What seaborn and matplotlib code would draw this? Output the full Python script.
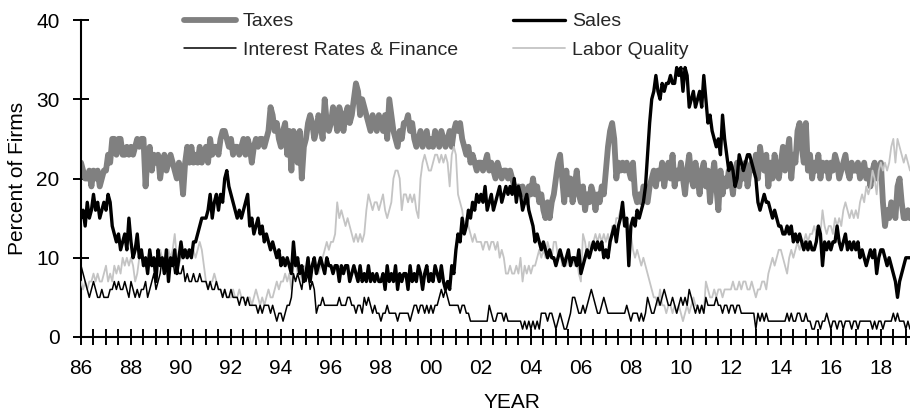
import numpy as np
import pandas as pd
import matplotlib
matplotlib.use("Agg")
import matplotlib.pyplot as plt
import seaborn as sns

# --- Monthly readings, Jan 1986 .. Mar 2019 (percent of firms) ---
START_YEAR = 1986

TAXES = [
    22, 21, 20, 20, 21, 19, 21, 20, 21, 19, 20, 21,  # 1986
    21, 23, 22, 25, 25, 23, 25, 25, 23, 23, 24, 23,  # 1987
    24, 23, 24, 25, 24, 25, 25, 19, 23, 24, 21, 23,  # 1988
    22, 23, 20, 22, 23, 21, 22, 23, 22, 21, 20, 22,  # 1989
    21, 18, 22, 24, 22, 24, 22, 23, 22, 24, 22, 23,  # 1990
    24, 22, 25, 23, 24, 24, 23, 25, 26, 26, 25, 24,  # 1991
    25, 23, 24, 24, 23, 24, 25, 23, 25, 24, 22, 24,  # 1992
    25, 24, 25, 25, 24, 25, 26, 29, 28, 26, 27, 25,  # 1993
    24, 26, 27, 23, 26, 21, 26, 25, 22, 26, 20, 24,  # 1994
    25, 27, 28, 27, 25, 26, 28, 27, 25, 30, 27, 26,  # 1995
    27, 29, 28, 26, 29, 28, 26, 28, 29, 27, 28, 30,  # 1996
    32, 31, 28, 30, 29, 28, 27, 26, 28, 27, 26, 28,  # 1997
    27, 26, 28, 25, 30, 28, 26, 25, 24, 26, 25, 27,  # 1998
    27, 28, 26, 27, 25, 24, 25, 26, 24, 25, 26, 24,  # 1999
    25, 24, 26, 25, 24, 26, 25, 24, 25, 26, 24, 26,  # 2000
    27, 26, 27, 25, 24, 23, 24, 22, 23, 22, 21, 22,  # 2001
    22, 21, 22, 23, 21, 22, 21, 20, 22, 21, 20, 21,  # 2002
    21, 20, 21, 20, 19, 18, 19, 18, 19, 18, 17, 19,  # 2003
    18, 20, 18, 19, 17, 18, 16, 15, 17, 15, 17, 18,  # 2004
    20, 22, 23, 20, 17, 21, 18, 20, 17, 19, 21, 18,  # 2005
    17, 19, 16, 18, 17, 19, 18, 16, 18, 17, 19, 18,  # 2006
    21, 24, 26, 27, 25, 20, 22, 21, 22, 21, 22, 21,  # 2007
    20, 22, 18, 17, 18, 17, 19, 18, 17, 19, 20, 21,  # 2008
    19, 21, 20, 22, 19, 21, 22, 20, 23, 19, 21, 20,  # 2009
    22, 20, 18, 21, 23, 20, 19, 22, 20, 18, 21, 22,  # 2010
    19, 21, 17, 20, 22, 19, 16, 21, 18, 20, 19, 21,  # 2011
    20, 18, 21, 22, 19, 21, 20, 22, 19, 21, 22, 21,  # 2012
    23, 20, 24, 22, 21, 23, 19, 22, 20, 23, 21, 20,  # 2013
    22, 24, 21, 23, 25, 20, 23, 22, 26, 27, 24, 22,  # 2014
    27, 21, 23, 20, 22, 21, 23, 20, 22, 21, 22, 20,  # 2015
    22, 21, 23, 22, 20, 21, 22, 23, 21, 20, 22, 21,  # 2016
    21, 22, 20, 21, 22, 20, 21, 19, 21, 22, 20, 21,  # 2017
    22, 17, 14, 16, 15, 17, 16, 15, 19, 20, 17, 15,  # 2018
    15, 16, 15,                                      # 2019
]

SALES = [
    15, 16, 14, 17, 15, 16, 18, 16, 17, 15, 16, 17,  # 1986
    16, 18, 17, 14, 13, 12, 13, 11, 12, 13, 11, 15,  # 1987
    12, 10, 11, 13, 10, 11, 9, 10, 8, 11, 9, 10,     # 1988
    7, 11, 9, 10, 8, 11, 7, 10, 9, 11, 8, 10,        # 1989
    12, 10, 11, 10, 11, 10, 12, 12, 13, 14, 15, 15,  # 1990
    15, 16, 18, 15, 17, 18, 16, 18, 17, 20, 21, 19,  # 1991
    18, 17, 16, 15, 16, 15, 16, 17, 18, 14, 15, 13,  # 1992
    14, 15, 13, 14, 12, 13, 12, 11, 12, 11, 10, 11,  # 1993
    9, 10, 9, 10, 9, 8, 12, 9, 10, 8, 9, 7,          # 1994
    8, 10, 7, 9, 10, 8, 9, 10, 9, 8, 10, 9,          # 1995
    9, 8, 9, 9, 7, 9, 8, 9, 9, 7, 8, 9,              # 1996
    8, 7, 9, 7, 8, 7, 9, 7, 8, 7, 8, 7,              # 1997
    7, 8, 6, 9, 7, 8, 7, 9, 6, 8, 7, 8,              # 1998
    8, 6, 9, 7, 8, 7, 9, 8, 6, 8, 9, 7,              # 1999
    8, 7, 9, 8, 7, 9, 7, 6, 7, 6, 9, 8,              # 2000
    11, 13, 12, 15, 13, 14, 16, 15, 17, 16, 18, 17,  # 2001
    18, 17, 19, 16, 17, 18, 16, 17, 18, 19, 17, 18,  # 2002
    19, 18, 19, 18, 20, 17, 19, 18, 16, 17, 18, 16,  # 2003
    15, 14, 12, 13, 12, 11, 12, 11, 10, 11, 10, 10,  # 2004
    9, 10, 11, 10, 9, 10, 11, 9, 10, 10, 9, 11,      # 2005
    8, 9, 10, 11, 10, 11, 12, 11, 12, 11, 12, 10,    # 2006
    11, 10, 12, 13, 14, 12, 14, 15, 17, 14, 15, 9,   # 2007
    14, 15, 14, 16, 15, 16, 17, 19, 23, 27, 30, 31,  # 2008
    33, 31, 30, 32, 31, 32, 32, 33, 32, 32, 34, 33,  # 2009
    34, 31, 34, 33, 29, 30, 31, 29, 30, 31, 29, 33,  # 2010
    30, 27, 28, 26, 25, 24, 25, 23, 28, 25, 23, 21,  # 2011
    22, 21, 19, 20, 23, 22, 21, 22, 23, 23, 22, 21,  # 2012
    20, 17, 16, 17, 18, 17, 17, 16, 15, 16, 15, 14,  # 2013
    14, 13, 13, 14, 13, 14, 12, 13, 12, 13, 12, 11,  # 2014
    12, 11, 12, 11, 11, 12, 14, 13, 9, 12, 11, 12,   # 2015
    11, 12, 12, 14, 12, 11, 12, 13, 11, 12, 11, 12,  # 2016
    11, 12, 10, 11, 10, 9, 10, 11, 10, 11, 8, 10,    # 2017
    11, 11, 10, 9, 10, 9, 8, 7, 5, 7, 8, 9,          # 2018
    10, 10, 10,                                      # 2019
]

INTEREST = [
    9, 8, 7, 6, 5, 6, 7, 6, 5, 5, 6, 5,     # 1986
    5, 5, 6, 6, 7, 6, 7, 6, 6, 7, 6, 5,     # 1987
    7, 6, 5, 6, 5, 6, 6, 7, 5, 6, 7, 8,     # 1988
    6, 7, 8, 10, 9, 10, 8, 9, 10, 8, 9, 8,  # 1989
    8, 9, 7, 8, 7, 7, 8, 7, 7, 8, 7, 7,     # 1990
    7, 6, 7, 6, 6, 7, 6, 6, 5, 6, 5, 5,     # 1991
    6, 5, 5, 5, 4, 5, 5, 4, 5, 4, 4, 4,     # 1992
    4, 3, 4, 3, 4, 4, 4, 3, 4, 3, 2, 3,     # 1993
    3, 2, 3, 4, 4, 5, 8, 7, 8, 7, 6, 8,     # 1994
    7, 8, 6, 7, 6, 3, 4, 4, 5, 4, 4, 4,     # 1995
    4, 4, 4, 4, 5, 4, 4, 4, 5, 5, 4, 4,     # 1996
    3, 4, 4, 3, 5, 4, 5, 4, 3, 4, 3, 3,     # 1997
    2, 3, 3, 4, 3, 3, 3, 3, 2, 3, 3, 3,     # 1998
    3, 3, 2, 3, 4, 4, 3, 4, 4, 3, 4, 3,     # 1999
    4, 3, 4, 4, 5, 6, 5, 6, 5, 4, 4, 4,     # 2000
    4, 4, 3, 4, 4, 3, 3, 2, 2, 2, 2, 2,     # 2001
    2, 2, 2, 2, 4, 3, 2, 2, 3, 3, 3, 2,     # 2002
    3, 2, 2, 2, 2, 2, 2, 2, 1, 2, 1, 2,     # 2003
    1, 2, 1, 2, 1, 3, 3, 3, 2, 3, 3, 2,     # 2004
    1, 2, 3, 2, 1, 1, 2, 3, 5, 5, 4, 3,     # 2005
    3, 4, 3, 4, 5, 6, 5, 4, 3, 3, 4, 5,     # 2006
    4, 3, 3, 3, 3, 3, 3, 3, 3, 3, 4, 3,     # 2007
    2, 3, 3, 3, 2, 3, 2, 3, 5, 4, 3, 3,     # 2008
    4, 5, 4, 5, 6, 5, 4, 4, 5, 4, 3, 4,     # 2009
    5, 4, 5, 4, 6, 5, 4, 3, 4, 3, 4, 3,     # 2010
    5, 4, 4, 4, 4, 5, 4, 4, 3, 4, 4, 3,     # 2011
    4, 4, 3, 4, 4, 3, 3, 3, 3, 3, 3, 3,     # 2012
    1, 3, 2, 3, 2, 3, 2, 2, 2, 2, 2, 2,     # 2013
    2, 2, 2, 3, 2, 3, 2, 2, 3, 3, 2, 2,     # 2014
    3, 2, 2, 1, 1, 2, 2, 1, 2, 2, 3, 2,     # 2015
    1, 2, 2, 1, 2, 2, 1, 2, 2, 2, 1, 2,     # 2016
    2, 1, 2, 2, 2, 2, 2, 2, 1, 2, 1, 2,     # 2017
    2, 1, 2, 2, 2, 2, 3, 2, 3, 2, 2, 2,     # 2018
    1, 2, 1,                                # 2019
]

LABOR = [
    7, 6, 7, 6, 7, 7, 8, 7, 8, 7, 7, 8,              # 1986
    9, 7, 8, 7, 9, 8, 9, 8, 10, 9, 10, 9,            # 1987
    10, 9, 7, 8, 10, 11, 10, 9, 10, 11, 10, 9,       # 1988
    10, 9, 11, 10, 9, 10, 11, 10, 11, 13, 10, 9,     # 1989
    10, 11, 10, 11, 11, 10, 11, 10, 11, 12, 11, 9,   # 1990
    7, 6, 7, 7, 8, 7, 6, 6, 5, 6, 5, 5,              # 1991
    5, 6, 5, 5, 6, 5, 5, 4, 5, 5, 4, 5,              # 1992
    6, 5, 4, 5, 4, 5, 6, 5, 5, 6, 7, 6,              # 1993
    7, 7, 8, 7, 8, 6, 9, 10, 8, 9, 7, 9,             # 1994
    8, 9, 7, 9, 10, 9, 8, 9, 10, 11, 12, 11,         # 1995
    12, 12, 13, 17, 15, 16, 15, 14, 15, 14, 13, 12,  # 1996
    13, 12, 13, 12, 13, 16, 18, 17, 16, 17, 17, 16,  # 1997
    17, 18, 16, 15, 16, 17, 20, 21, 21, 20, 16, 18,  # 1998
    18, 17, 18, 17, 18, 16, 15, 20, 22, 23, 22, 21,  # 1999
    21, 22, 23, 23, 22, 23, 22, 23, 22, 19, 23, 24,  # 2000
    23, 18, 17, 16, 14, 15, 14, 13, 12, 13, 12, 12,  # 2001
    12, 11, 12, 12, 11, 12, 12, 11, 12, 10, 11, 10,  # 2002
    8, 8, 9, 8, 8, 9, 8, 10, 7, 9, 8, 9,             # 2003
    8, 9, 9, 10, 11, 10, 11, 10, 12, 11, 10, 12,     # 2004
    12, 10, 11, 9, 10, 9, 10, 9, 10, 9, 10, 8,       # 2005
    7, 13, 12, 10, 12, 11, 12, 13, 12, 13, 12, 13,   # 2006
    12, 13, 11, 14, 13, 15, 15, 16, 17, 14, 15, 13,  # 2007
    13, 11, 10, 11, 10, 9, 10, 9, 8, 7, 6, 5,        # 2008
    5, 4, 6, 4, 4, 3, 4, 4, 3, 4, 3, 4,              # 2009
    3, 2, 3, 4, 3, 4, 5, 4, 4, 3, 4, 3,              # 2010
    7, 6, 5, 5, 6, 5, 6, 6, 5, 6, 6, 6,              # 2011
    6, 7, 6, 6, 7, 6, 7, 7, 6, 6, 7, 6,              # 2012
    5, 6, 6, 7, 7, 6, 8, 9, 10, 9, 10, 11,           # 2013
    11, 10, 9, 8, 10, 11, 10, 11, 12, 11, 12, 12,    # 2014
    13, 12, 13, 13, 14, 13, 14, 13, 16, 14, 13, 14,  # 2015
    14, 13, 15, 14, 15, 14, 16, 17, 16, 15, 16, 15,  # 2016
    16, 15, 17, 18, 17, 19, 18, 19, 21, 20, 18, 21,  # 2017
    22, 21, 22, 21, 22, 24, 25, 22, 25, 24, 23, 22,  # 2018
    23, 22, 21,                                      # 2019
]

SERIES_NAMES = ["Taxes", "Interest Rates & Finance", "Sales", "Labor Quality"]
Y_TICKS = [0, 10, 20, 30, 40]
X_LABEL_YEARS = list(range(1986, 2019, 2))

# --- Style ---
sns.set_theme(style="white")
plt.rcParams['font.family'] = ['Liberation Sans', 'DejaVu Sans']

n = len(TAXES)
assert n == len(SALES) == len(INTEREST) == len(LABOR)
year_frac = START_YEAR + np.arange(n) / 12.0

df = pd.DataFrame({
    "year": year_frac,
    "Taxes": TAXES,
    "Sales": SALES,
    "Interest Rates & Finance": INTEREST,
    "Labor Quality": LABOR,
})

fig = plt.figure(figsize=(9.10, 4.12), dpi=100)
ax = fig.add_axes([81 / 910, 1 - 337 / 412, 1 - 81 / 910, (337 - 20) / 412])

# draw order: taxes underneath, then labor, interest, sales on top
styles = {
    "Taxes": dict(color="#808080", linewidth=4.2, zorder=2),
    "Labor Quality": dict(color="#c4c4c4", linewidth=1.3, zorder=3),
    "Interest Rates & Finance": dict(color="black", linewidth=1.1, zorder=4),
    "Sales": dict(color="black", linewidth=2.4, zorder=5),
}
for name in ["Taxes", "Labor Quality", "Interest Rates & Finance", "Sales"]:
    sns.lineplot(data=df, x="year", y=name, ax=ax, label=name, **styles[name])

ax.set_xlim(year_frac[0], year_frac[-1])
ax.set_ylim(0, 40)

ax.set_yticks(Y_TICKS)
half_years = np.arange(START_YEAR, year_frac[-1] + 0.01, 0.5)
ax.set_xticks(half_years)
ax.set_xticklabels([f"{int(y) % 100:02d}" if (y == int(y) and int(y) in X_LABEL_YEARS) else ""
                    for y in half_years])

ax.tick_params(axis="both", direction="inout", length=11, width=1.4, color="black",
               labelsize=15, labelcolor="black", bottom=True, left=True)
ax.tick_params(axis="x", pad=10)
ax.tick_params(axis="y", pad=10)

for side in ["top", "right"]:
    ax.spines[side].set_visible(False)
for side in ["left", "bottom"]:
    ax.spines[side].set_color("black")
    ax.spines[side].set_linewidth(1.5)

ax.set_xlabel("YEAR", fontsize=15, color="black")
ax.xaxis.set_label_coords(0.52, -(393 - 337) / 317)
ax.set_ylabel("Percent of Firms", fontsize=15, color="black")
ax.yaxis.set_label_coords(-(81 - 8) / 829, 0.5)
ax.yaxis.label.set_verticalalignment("top")
ax.grid(False)

# legend: two columns, taxes/interest on the left, sales/labor on the right
handles, labels = ax.get_legend_handles_labels()
lookup = dict(zip(labels, handles))
ax.legend([lookup[k] for k in SERIES_NAMES], SERIES_NAMES, ncol=2, frameon=False,
          fontsize=14, handlelength=2.7, handletextpad=0.35, columnspacing=2.8,
          labelspacing=0.55, loc="upper left", bbox_to_anchor=(176 / 910, 1 - 5 / 412),
          bbox_transform=fig.transFigure, borderaxespad=0)

fig.savefig("out.png", dpi=100)
